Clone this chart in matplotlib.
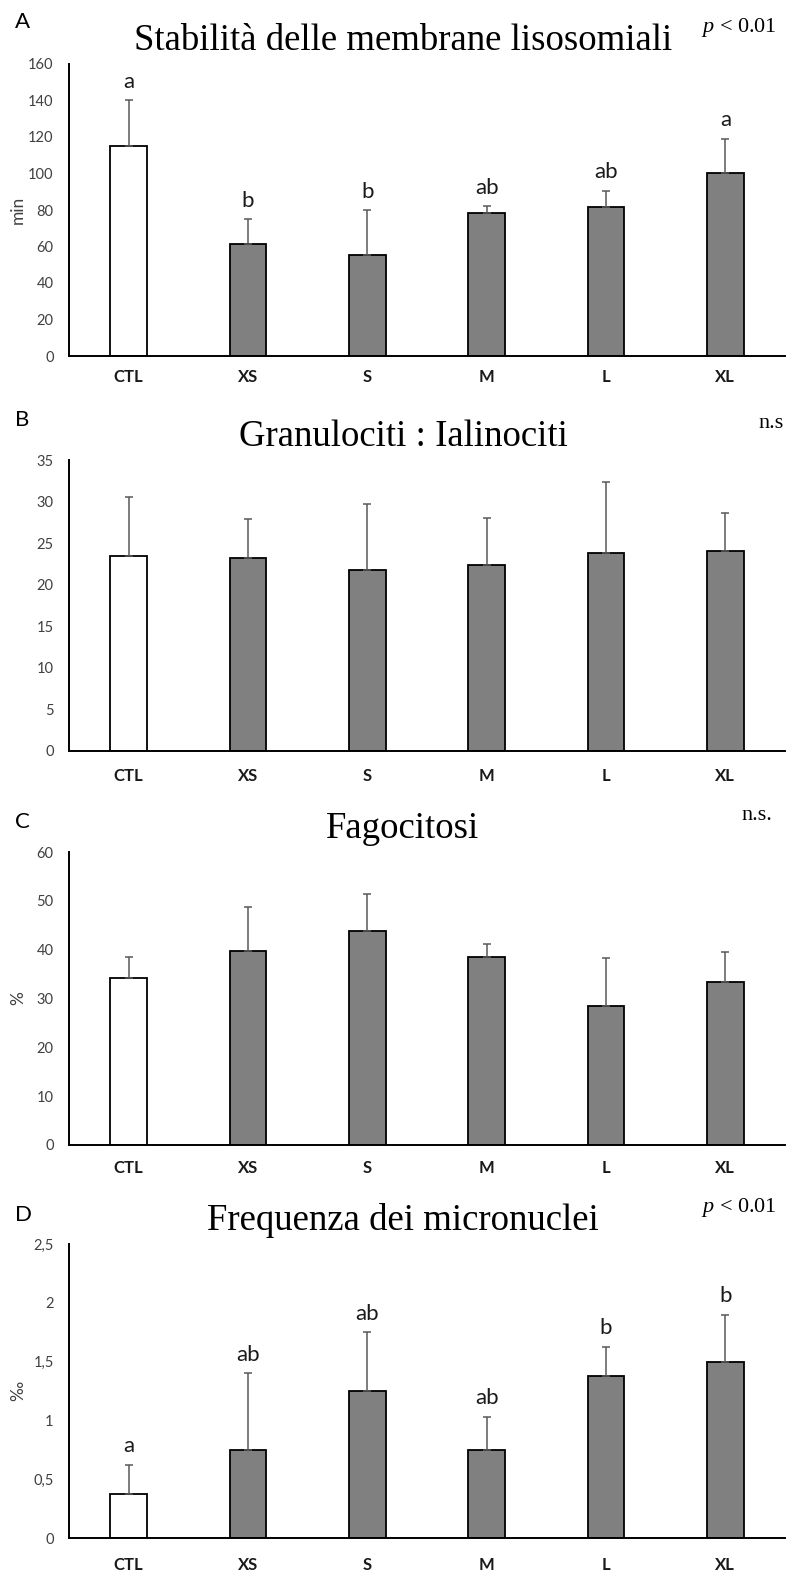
import numpy as np
import matplotlib
matplotlib.use('Agg')
import matplotlib.pyplot as plt
from matplotlib.ticker import FuncFormatter

plt.rcParams['font.family'] = ['Lato', 'DejaVu Sans']
plt.rcParams['mathtext.fontset'] = 'custom'
plt.rcParams['mathtext.it'] = 'Liberation Serif:italic'
plt.rcParams['mathtext.rm'] = 'Liberation Serif'

# dati
categories = ['CTL', 'XS', 'S', 'M', 'L', 'XL']

lyso_mean = [115, 61.5, 55.5, 78.5, 81.5, 100.5]
lyso_err = [25, 13.5, 24.5, 3.5, 9, 18.5]
lyso_letters = ['a', 'b', 'b', 'ab', 'ab', 'a']

gran_mean = [23.5, 23.2, 21.8, 22.4, 23.8, 24.1]
gran_err = [7.1, 4.7, 7.9, 5.6, 8.6, 4.5]

fago_mean = [34.3, 39.7, 43.9, 38.5, 28.5, 33.3]
fago_err = [4.1, 9.0, 7.6, 2.6, 9.7, 6.2]

micro_mean = [0.375, 0.75, 1.25, 0.75, 1.375, 1.5]
micro_err = [0.25, 0.65, 0.5, 0.28, 0.25, 0.4]
micro_letters = ['a', 'ab', 'ab', 'ab', 'b', 'b']

panels = [
    ('A', 'Stabilità delle membrane lisosomiali', r'$p$ < 0.01', 'min',
     lyso_mean, lyso_err, lyso_letters, 160, 20),
    ('B', 'Granulociti : Ialinociti', 'n.s', '',
     gran_mean, gran_err, None, 35, 5),
    ('C', 'Fagocitosi', 'n.s.', '%',
     fago_mean, fago_err, None, 60, 10),
    ('D', 'Frequenza dei micronuclei', r'$p$ < 0.01', '‰',
     micro_mean, micro_err, micro_letters, 2.5, 0.5),
]

W, H = 787, 1573
fig = plt.figure(figsize=(W / 100, H / 100), dpi=100)

# posizioni in pixel: (alto, basso) degli assi, bordo destro del testo p / n.s., lettera
boxes = [(64, 356), (460, 751), (852, 1145), (1244, 1538)]
pval_right = [777, 784, 772, 777]
lab_off = [42, 40, 30, 29]
xpad = [9, 12, 11, 13.5]
ax_left, ax_right = 69, 785

def fmt_num(v, pos):
    s = ('%g' % v)
    return s.replace('.', ',')

x = np.arange(len(categories))
for k, ((lab, title, pval, ylab, mean, err, letters, ymax, step), (top, bot)) in enumerate(zip(panels, boxes)):
    ax = fig.add_axes([ax_left / W, 1 - bot / H, (ax_right - ax_left) / W, (bot - top) / H])
    colors = ['white'] + ['#808080'] * 5
    ax.bar(x, mean, width=0.31, color=colors, edgecolor='black', linewidth=1.3, zorder=2)
    ax.errorbar(x, mean, yerr=[np.zeros(len(mean)), err], fmt='none', ecolor='#595959',
                elinewidth=1.1, capsize=2.8, capthick=1.1, zorder=3)
    ax.set_xlim(-0.5, 5.5)
    ax.set_ylim(0, ymax)
    ax.set_yticks(np.arange(0, ymax + step / 2, step))
    ax.yaxis.set_major_formatter(FuncFormatter(fmt_num))
    ax.set_xticks(x)
    ax.set_xticklabels(categories, fontweight='bold', fontsize=12, color='#1a1a1a')
    ax.tick_params(axis='both', length=0)
    ax.tick_params(axis='y', labelsize=10.5, labelcolor='#404040', pad=11)
    ax.tick_params(axis='x', pad=xpad[k])
    for s in ['top', 'right']:
        ax.spines[s].set_visible(False)
    for s in ['left', 'bottom']:
        ax.spines[s].set_linewidth(1.4)
        ax.spines[s].set_color('black')

    if letters:
        for i, t in enumerate(letters):
            ax.annotate(t, xy=(i, mean[i] + err[i]), xytext=(0, 9), textcoords='offset points',
                        ha='center', va='baseline', fontsize=16, color='#1a1a1a')

    ax.text(-51 / 716, 0.5, ylab, transform=ax.transAxes, rotation=90,
            ha='center', va='center', fontsize=12.5, color='#404040')

    # titolo, lettera del pannello e significatività
    fig.text(403 / W, 1 - (top - 14) / H, title, family='Liberation Serif', fontsize=26.5,
             ha='center', va='baseline')
    fig.text(15 / W, 1 - (top - lab_off[k]) / H, lab, fontsize=16, ha='left', va='center')
    fig.text(pval_right[k] / W, 1 - (top - 32) / H, pval, family='Liberation Serif', fontsize=16,
             ha='right', va='baseline')

fig.savefig('out.png', dpi=100)
